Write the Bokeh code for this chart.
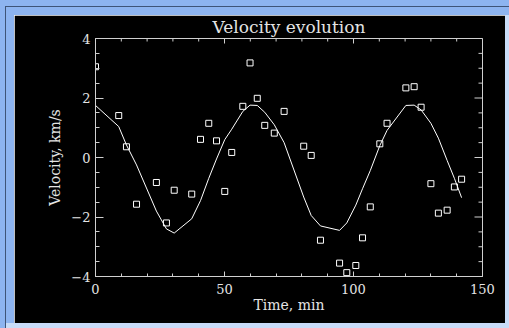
import math
from bokeh.plotting import figure
from bokeh.models import LinearAxis, FixedTicker, Range1d, Spacer
from bokeh.layouts import column, row
from bokeh.embed import file_html
from bokeh.resources import INLINE

# observed velocities (squares)
time_min = [0.0, 9.0, 12.0, 15.9, 23.6, 27.5, 30.5, 37.3, 40.7, 43.9, 46.9, 50.1,
            52.8, 57.1, 59.9, 62.7, 65.6, 69.3, 73.1, 80.7, 83.6, 87.2, 94.6, 97.4,
            100.9, 103.5, 106.5, 110.2, 113.0, 120.3, 123.5, 126.2, 130.0, 132.9,
            136.3, 139.1, 141.9]
velocity = [3.05, 1.41, 0.36, -1.57, -0.84, -2.20, -1.10, -1.23, 0.61, 1.15, 0.56, -1.14,
            0.17, 1.72, 3.18, 1.99, 1.08, 0.82, 1.55, 0.38, 0.07, -2.78, -3.55, -3.87,
            -3.63, -2.70, -1.66, 0.46, 1.15, 2.34, 2.38, 1.69, -0.88, -1.87,
            -1.77, -0.99, -0.73]
# fitted curve (solid line), sampled at the same times
fit_velocity = [1.75, 1.04, 0.42, -0.25, -1.80, -2.40, -2.54, -2.06, -1.45, -0.70, -0.05, 0.60,
                0.95, 1.55, 1.76, 1.75, 1.52, 1.10, 0.50, -1.33, -1.95, -2.30, -2.45, -2.20,
                -1.60, -1.05, -0.44, 0.40, 0.91, 1.75, 1.76, 1.60, 1.15, 0.65,
                -0.10, -0.70, -1.35]

x_major = [0, 50, 100, 150]
x_minor = [10, 20, 30, 40, 60, 70, 80, 90, 110, 120, 130, 140]
x_tick_labels = ["0", "50", "100", "150"]
y_major = [-4, -2, 0, 2, 4]
y_minor = [-3.5, -3, -2.5, -1.5, -1, -0.5, 0.5, 1, 1.5, 2.5, 3, 3.5]
y_tick_labels = ["\u22124", "\u22122", "0", "2", "4"]

FONT = "DejaVu Serif"
TXT = "#e4e4e4"
AX = "#d0d0d0"
BLUE = "#8db4f0"
LIGHT = "#c8dcf8"
DARK = "#3e5478"

p = figure(width=491, height=308, output_backend="svg", toolbar_location=None,
           x_range=Range1d(x_major[0], x_major[-1]), y_range=Range1d(y_major[0], y_major[-1]),
           x_axis_location=None, y_axis_location=None,
           min_border_left=81, min_border_right=23, min_border_top=23, min_border_bottom=47,
           title="Velocity evolution")
p.border_fill_color = "black"
p.background_fill_color = "black"
p.outline_line_color = AX
p.grid.visible = False

p.title.align = "center"
p.title.vertical_align = "top"
p.title.text_font = FONT
p.title.text_font_size = "17px"
p.title.text_font_style = "normal"
p.title.text_color = TXT
p.title.standoff = 0


def make_axis(major, minor, labels, tin, tmin):
    ax = LinearAxis(ticker=FixedTicker(ticks=major, minor_ticks=minor))
    ax.axis_line_color = AX
    ax.major_tick_line_color = AX
    ax.minor_tick_line_color = AX
    ax.major_tick_in = tin
    ax.major_tick_out = 0
    ax.minor_tick_in = tmin
    ax.minor_tick_out = 0
    ax.major_label_overrides = {m: l for m, l in zip(major, labels)}
    ax.major_label_text_font = FONT
    ax.major_label_text_font_size = "13px"
    ax.major_label_text_color = TXT
    ax.axis_label_text_font = FONT
    ax.axis_label_text_font_size = "14px"
    ax.axis_label_text_font_style = "normal"
    ax.axis_label_text_color = TXT
    return ax


left = make_axis(y_major, y_minor, y_tick_labels, 8, 4)
left.axis_label = "Velocity, km/s"
left.major_label_standoff = 5
left.axis_label_standoff = 5
bottom = make_axis(x_major, x_minor, x_tick_labels, 5, 3)
bottom.axis_label = "Time, min"
bottom.major_label_standoff = 7
bottom.axis_label_standoff = 0
p.add_layout(left, "left")
p.add_layout(bottom, "below")

# inward ticks on the top and right edges of the box
top_y = y_major[-1]
right_x = x_major[-1]
p.ray(x=x_major, y=[top_y] * len(x_major), length=5, angle=-math.pi / 2,
      length_units="screen", line_color=AX, line_width=1)
p.ray(x=x_minor, y=[top_y] * len(x_minor), length=3, angle=-math.pi / 2,
      length_units="screen", line_color=AX, line_width=1)
p.ray(x=[right_x] * len(y_major), y=y_major, length=8, angle=math.pi,
      length_units="screen", line_color=AX, line_width=1)
p.ray(x=[right_x] * len(y_minor), y=y_minor, length=4, angle=math.pi,
      length_units="screen", line_color=AX, line_width=1)

p.line(time_min, fit_velocity, line_color="white", line_width=1)
p.scatter(time_min, velocity, marker="square", size=6, line_color="white",
          fill_color=None, line_width=1)


def sp(w, h, c):
    return Spacer(width=w, height=h, styles={"background-color": c})


inner = column(
    sp(503, 8, BLUE),
    row(sp(8, 308, BLUE), p, sp(4, 308, LIGHT), spacing=0),
    sp(503, 5, LIGHT),
    spacing=0,
)
page = column(
    sp(509, 6, BLUE),
    row(
        sp(5, 322, BLUE),
        column(sp(504, 1, DARK), row(sp(1, 321, DARK), inner, spacing=0), spacing=0),
        spacing=0,
    ),
    spacing=0,
)

open("out.html", "w").write(file_html(page, INLINE))
